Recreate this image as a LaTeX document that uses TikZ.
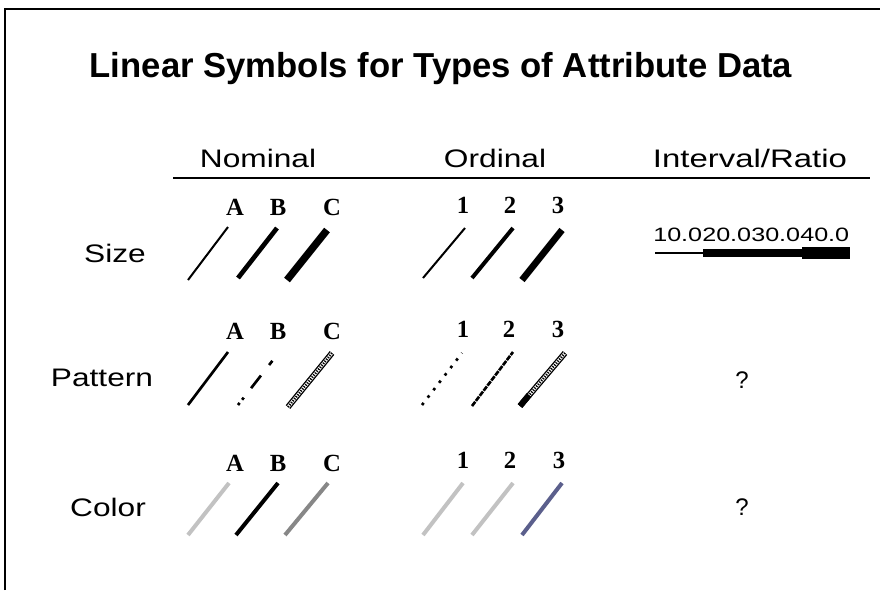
\documentclass[tikz,border=0pt]{standalone}
\usepackage{fontspec}
\setmainfont{Liberation Sans}
\newfontfamily\letterfont{Liberation Serif}
\newcommand{\widen}[2][1.25]{\scalebox{#1}[1]{#2}}
\definecolor{lightgrey}{HTML}{C2C2C2}
\definecolor{midgrey}{HTML}{878787}
\definecolor{slate}{HTML}{5B5F8C}
\tikzset{
  frame/.style={line width=1.5pt},
  titletext/.style={font=\bfseries\fontsize{26}{30}\selectfont},
  headtext/.style={font=\fontsize{19}{22}\selectfont, inner sep=0pt},
  rowtext/.style={font=\fontsize{19}{22}\selectfont, inner sep=0pt},
  keytext/.style={font=\letterfont\bfseries\fontsize{18.5}{20}\selectfont, inner sep=0pt},
  numtext/.style={font=\fontsize{14.5}{16}\selectfont, inner sep=0pt, anchor=west},
  qtext/.style={font=\fontsize{18}{20}\selectfont, inner sep=0pt},
  sym/.style={line cap=butt},
  hatched/.style={line width=1pt, double=white, double distance=2.4pt},
  hatchfill/.style={line width=1.8pt, dash pattern=on 0.9pt off 1pt},
}
\begin{document}
\begin{tikzpicture}[x=0.75pt, y=-0.75pt]
\useasboundingbox (0,0) rectangle (880,590);
\fill[white] (0,0) rectangle (880,590);

% open frame: top and left edges
\coordinate (fbl) at (5,590);
\coordinate (ftl) at (5,9);
\coordinate (ftr) at (880,9);
\draw[frame] (fbl) -- (ftl) -- (ftr);

% title
\node[titletext] (title) at (441,69) {Linear Symbols for Types of Attribute Data};

% column headings and rule
\node[headtext] (nominal) at (258,158) {\widen{Nominal}};
\node[headtext] (ordinal) at (495,158) {\widen{Ordinal}};
\node[headtext] (interval) at (750,158) {\widen[1.3]{Interval/Ratio}};
\coordinate (ruleL) at (173,178);
\coordinate (ruleR) at (870,178);
\draw[frame] (ruleL) -- (ruleR);

% row headings
\node[rowtext] (size) at (115,253) {\widen{Size}};
\node[rowtext] (pattern) at (102,378) {\widen{Pattern}};
\node[rowtext] (color) at (108,507) {\widen{Color}};

% ---- Size row ----
\node[keytext] (sA) at (235,207) {A};
\node[keytext] (sB) at (278,207) {B};
\node[keytext] (sC) at (332,207) {C};
\node[keytext] (s1) at (463,205) {1};
\node[keytext] (s2) at (510,205) {2};
\node[keytext] (s3) at (558,205) {3};
\draw[sym, line width=1.5pt] (188,280) -- (228,227);
\draw[sym, line width=3.5pt] (238,278) -- (277,228);
\draw[sym, line width=5.5pt] (287,280) -- (327,230);
\draw[sym, line width=1.5pt] (423,278) -- (465,228);
\draw[sym, line width=3pt]   (472,278) -- (513,228);
\draw[sym, line width=5pt]   (522,280) -- (562,230);

% graduated line with class breaks
\node[numtext] (v10) at (653,235) {\widen[1.3]{10.0}};
\node[numtext] (v20) at (702,235) {\widen[1.3]{20.0}};
\node[numtext] (v30) at (751,235) {\widen[1.3]{30.0}};
\node[numtext] (v40) at (800,235) {\widen[1.3]{40.0}};
\draw[line width=1.5pt] (655,253) -- (703,253);
\draw[line width=5.5pt] (703,253) -- (802,253);
\draw[line width=9pt] (802,253) -- (850,253);

% ---- Pattern row ----
\node[keytext] (pA) at (235,331) {A};
\node[keytext] (pB) at (278,331) {B};
\node[keytext] (pC) at (332,331) {C};
\node[keytext] (p1) at (463,329) {1};
\node[keytext] (p2) at (509,329) {2};
\node[keytext] (p3) at (558,329) {3};
\draw[sym, line width=2pt] (188,405) -- (228,352);
\draw[sym, line width=2pt, dash pattern=on 2pt off 3pt on 2pt off 9pt on 12pt off 10pt on 4pt off 20pt]
  (238,405) -- (273,360);
\draw[sym, hatched] (288,407) -- (332,353);
\draw[sym, hatchfill] (288,407) -- (332,353);
\draw[sym, line width=2pt, dash pattern=on 2pt off 5pt] (422,405) -- (462,353);
\draw[sym, line width=2pt, dash pattern=on 4pt off 0.8pt] (472,406) -- (513,352);
\draw[sym, hatched] (520,406) -- (565,353);
\draw[sym, hatchfill] (520,406) -- (565,353);
\draw[sym, line width=4.5pt] (520,406) -- (529,395);

\node[qtext] (q1) at (742,380) {?};

% ---- Colour row ----
\node[keytext] (cA) at (235,463) {A};
\node[keytext] (cB) at (278,463) {B};
\node[keytext] (cC) at (332,463) {C};
\node[keytext] (c1) at (463,460) {1};
\node[keytext] (c2) at (510,460) {2};
\node[keytext] (c3) at (559,460) {3};
\draw[sym, line width=3pt, lightgrey] (188,535) -- (229,483);
\draw[sym, line width=3pt, black]     (236,535) -- (278,483);
\draw[sym, line width=3pt, midgrey]   (285,535) -- (328,483);
\draw[sym, line width=3pt, lightgrey] (423,535) -- (463,483);
\draw[sym, line width=3pt, lightgrey] (472,535) -- (513,483);
\draw[sym, line width=3pt, slate]     (522,535) -- (562,483);

\node[qtext] (q2) at (742,507) {?};
\end{tikzpicture}
\end{document}
